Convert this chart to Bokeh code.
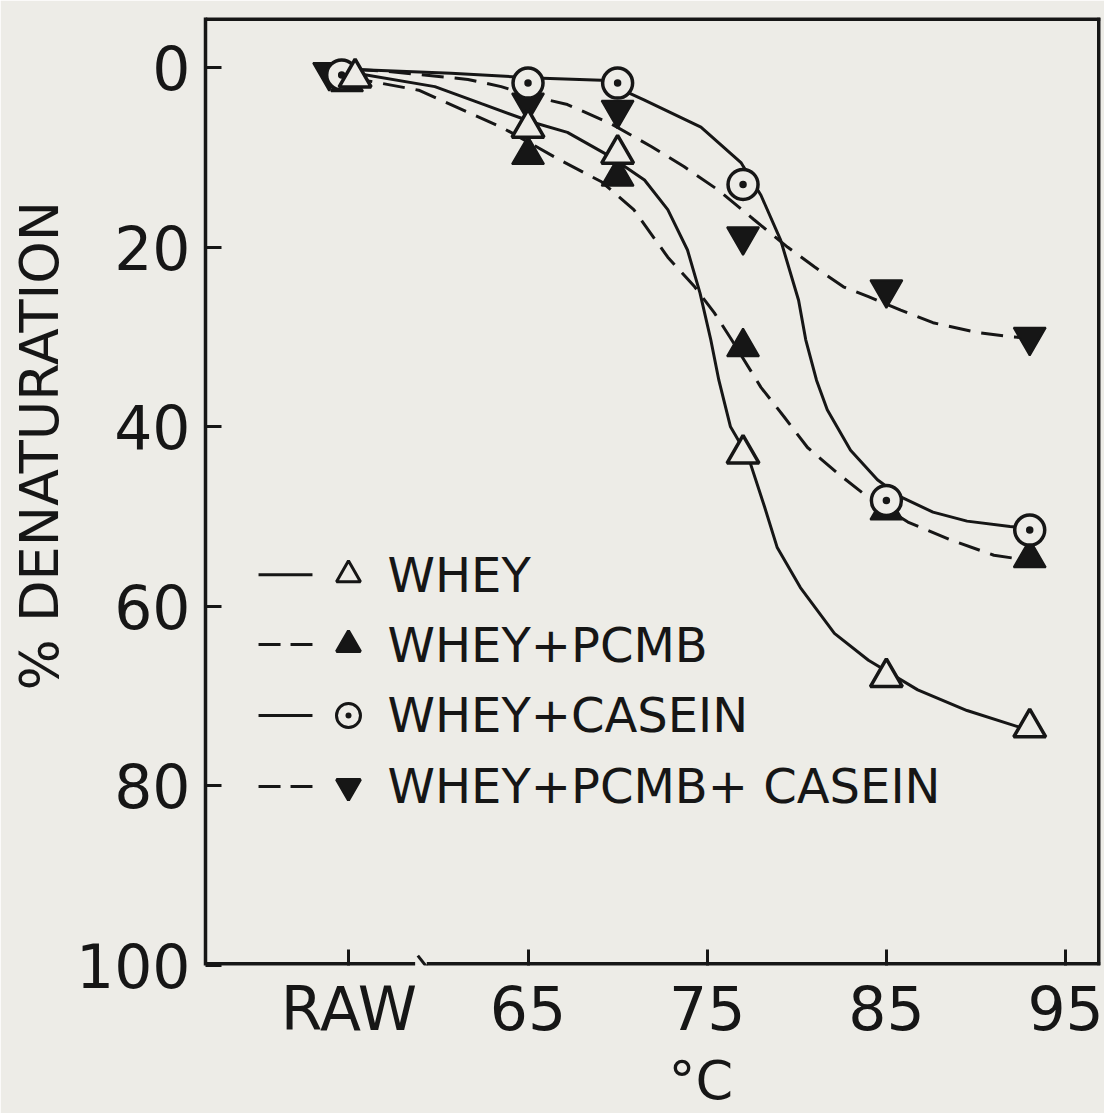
from bokeh.plotting import figure
from bokeh.models import Range1d, FixedTicker, Title
from bokeh.core.properties import value
from bokeh.embed import file_html
from bokeh.resources import INLINE

# ---------------- data ----------------
temp_labels = ["RAW", "65", "70", "77", "85", "93"]
temps = ["RAW", 65, 70, 77, 85, 93]
RAW_POS = 55  # where "RAW" sits on the broken temperature axis

whey = [1.1, 6.7, 9.6, 43.0, 67.9, 73.5]
whey_pcmb = [1.6, 9.7, 12.1, 31.1, 49.3, 54.6]
whey_casein = [0.8, 1.7, 1.7, 13.0, 48.2, 51.5]
whey_pcmb_casein = [0.5, 3.9, 4.7, 18.8, 24.7, 30.0]

# hand-drawn fitted curves
whey_fit_x = [55.4, 59.8, 62.4, 65.3, 67.2, 69.6, 71.5, 72.8, 73.9, 74.6, 75.2, 75.65,
              76.3, 77.3, 78.2, 78.9, 80.2, 82.1, 84.0, 86.75, 89.5, 92.5]
whey_fit_y = [0.6, 2.1, 4.0, 6.1, 7.2, 9.9, 12.5, 15.8, 20.3, 25.1, 30.3, 34.8,
              40.0, 43.4, 48.9, 53.4, 57.9, 63.0, 66.0, 69.3, 71.6, 73.5]

whey_pcmb_fit_x = [55.1, 58.9, 63.5, 65.3, 66.8, 69.1, 70.9, 72.8, 74.3, 75.4, 76.3,
                   78.0, 79.3, 80.6, 82.3, 83.7, 85.0, 86.2, 88.6, 91.0, 92.7]
whey_pcmb_fit_y = [1.1, 2.5, 6.6, 8.6, 10.3, 12.7, 15.8, 21.1, 24.4, 27.3, 30.1,
                   35.6, 38.9, 42.3, 45.2, 47.4, 49.1, 50.6, 52.6, 54.3, 54.8]

whey_casein_fit_x = [55.4, 60.7, 65.0, 69.1, 71.5, 74.65, 76.9, 78.0, 79.1, 80.1, 80.5,
                     81.1, 81.7, 83.0, 84.5, 85.8, 87.6, 89.5, 91.9, 92.9]
whey_casein_fit_y = [0.2, 0.6, 1.1, 1.4, 3.6, 6.6, 10.6, 14.2, 19.2, 25.9, 30.3,
                     34.8, 38.1, 42.6, 45.9, 47.8, 49.5, 50.5, 51.1, 51.3]

whey_pcmb_casein_fit_x = [55.4, 57.2, 61.65, 63.5, 65.3, 67.2, 69.6, 71.9, 73.7, 75.6,
                          77.6, 79.5, 81.0, 82.6, 84.0, 85.8, 87.6, 90.1, 92.1, 93.2]
whey_pcmb_casein_fit_y = [0.2, 0.4, 1.3, 2.1, 3.2, 4.1, 6.2, 8.8, 11.0, 13.6,
                          16.9, 20.0, 22.2, 24.4, 25.5, 27.0, 28.4, 29.5, 30.0, 30.1]

series_names = ["WHEY", "WHEY+PCMB", "WHEY+CASEIN", "WHEY+PCMB+ CASEIN"]

x_ticks = [RAW_POS, 65, 75, 85, 95]
x_tick_labels = ["RAW", "65", "75", "85", "95"]
y_ticks = [0, 20, 40, 60, 80, 100]
x_title = "°C"
y_title = "% DENATURATION"

# ---------------- styling ----------------
BG = "#edece7"
INK = "#161616"
FONT = "DejaVu Sans"
X0, X1 = 47.0, 96.95
Y_TOP, Y_BOT = -5.6, 100

p = figure(width=1104, height=1113, output_backend="svg", toolbar_location=None,
           x_range=Range1d(X0, X1), y_range=Range1d(Y_BOT, Y_TOP),
           min_border_left=205, min_border_right=4, min_border_top=17, min_border_bottom=148)
p.background_fill_color = BG
p.border_fill_color = BG
p.outline_line_color = None
p.grid.visible = False

for ax in (p.xaxis[0], p.yaxis[0]):
    ax.major_tick_in = 16
    ax.major_tick_out = 0
    ax.minor_tick_in = 0
    ax.minor_tick_out = 0
    ax.major_tick_line_width = 3
    ax.major_tick_line_color = INK
    ax.major_label_text_font = FONT
    ax.major_label_text_font_size = "60px"
    ax.major_label_text_color = INK

p.xaxis.ticker = FixedTicker(ticks=x_ticks)
p.xaxis.major_label_overrides = {t: s for t, s in zip(x_ticks, x_tick_labels)}
p.xaxis.axis_line_color = None
p.xaxis.major_label_standoff = 8

p.yaxis.ticker = FixedTicker(ticks=y_ticks)
p.yaxis.axis_line_width = 3.5
p.yaxis.axis_line_color = INK
p.yaxis.major_label_standoff = 15

# axis titles (as side titles so they can be shifted like in the original)
p.add_layout(Title(text=x_title, align="left", offset=463, standoff=0,
                   text_font=FONT, text_font_size="54px", text_font_style="normal",
                   text_color=INK), "below")
p.add_layout(Title(text=y_title, align="left", offset=275, standoff=4,
                   text_font=FONT, text_font_size="54px", text_font_style="normal",
                   text_color=INK), "left")

# frame borders (top, right, broken bottom)
p.segment(x0=[X0, X1, X0, 59.35], y0=[Y_TOP, Y_TOP, Y_BOT, Y_BOT],
          x1=[X1, X1, 58.7, X1], y1=[Y_TOP, Y_BOT, Y_BOT, Y_BOT],
          line_color=INK, line_width=7)
# axis-break mark
p.segment(x0=[58.85], y0=[98.9], x1=[59.4], y1=[100.3], line_color=INK, line_width=3)


def xs_of(offset):
    return [(RAW_POS if t == "RAW" else t) + (offset if t == "RAW" else 0) for t in temps]


# curves
p.line(whey_fit_x, whey_fit_y, line_color=INK, line_width=3)
p.line(whey_pcmb_fit_x, whey_pcmb_fit_y, line_color=INK, line_width=3, line_dash="22 11")
p.line(whey_casein_fit_x, whey_casein_fit_y, line_color=INK, line_width=3)
p.line(whey_pcmb_casein_fit_x, whey_pcmb_casein_fit_y, line_color=INK, line_width=3,
       line_dash="22 11")

MS = 32
p.scatter(xs_of(-1.1), whey_pcmb_casein, marker="inverted_triangle", size=MS,
          fill_color=INK, line_color=INK, line_width=2)
p.scatter(xs_of(-0.1), whey_pcmb, marker="triangle", size=MS,
          fill_color=INK, line_color=INK, line_width=2)
p.scatter(xs_of(-0.4), whey_casein, marker="circle_dot", size=MS - 2,
          fill_color=BG, line_color=INK, line_width=3.5)
p.scatter(xs_of(0.35), whey, marker="triangle", size=MS,
          fill_color=BG, line_color=INK, line_width=3.5)

# legend (drawn: line sample, marker, text)
leg_y = [56.47, 64.25, 72.15, 80.05]
leg_dash = ["solid", "22 10", "solid", "22 10"]
leg_marker = ["triangle", "triangle", "circle_dot", "inverted_triangle"]
leg_fill = [BG, INK, BG, INK]
for yy, dash, mk, fc, name in zip(leg_y, leg_dash, leg_marker, leg_fill, series_names):
    p.line([49.96, 52.97], [yy, yy], line_color=INK, line_width=3, line_dash=dash)
    p.scatter([54.98], [yy], marker=mk, size=24, fill_color=fc, line_color=INK, line_width=3)
    p.text([57.16], [yy], text=[name], text_font=value(FONT), text_font_size=value("48px"),
           text_color=INK, text_baseline="middle", text_align="left")

open("out.html", "w").write(file_html(p, INLINE))
